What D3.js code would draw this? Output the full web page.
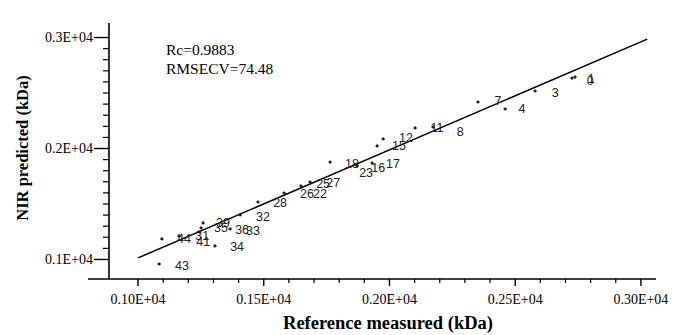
<!DOCTYPE html>
<html><head><meta charset="utf-8">
<script src="https://cdn.jsdelivr.net/npm/d3@7"></script>
<style>body{margin:0;background:#fff}svg{display:block}</style>
</head><body>
<script>
// Plain dots: measured (x) vs predicted (y)
const dotX = [1084,1095,1163,1243,1251,1259,1306,1366,1406,1477,1581,1648,1684,1764,1871,1931,1951,1975,2102,2173,2352,2460,2579,2726,2738];
const dotY = [959,1185,1212,1248,1284,1329,1122,1275,1401,1518,1599,1662,1698,1878,1842,1869,2023,2086,2185,2194,2419,2356,2518,2635,2644];
// Numbered samples drawn as text markers
const labelNames = ["0","1","3","4","7","8","11","12","15","17","16","23","18","27","25","22","26","28","32","33","36","39","35","34","41","31","44","43"];
const labelX = [2798,2802,2659,2527,2432,2281,2189,2066,2038,2014,1955,1907,1851,1776,1736,1724,1672,1565,1497,1457,1414,1338,1330,1394,1259,1255,1183,1175];
const labelY = [2617,2635,2509,2356,2437,2149,2185,2095,2023,1869,1833,1788,1869,1698,1689,1599,1599,1509,1383,1257,1266,1329,1284,1113,1158,1212,1185,950];
// Regression line end points
const fitX = [1000, 3025];
const fitY = [1014, 2986];
// Ticks
const xMajor = [1000,1500,2000,2500,3000];
const xTickLabels = ["0.10E+04","0.15E+04","0.20E+04","0.25E+04","0.30E+04"];
const yMajor = [1000,2000,3000];
const yTickLabels = ["0.1E+04","0.2E+04","0.3E+04"];
const statLines = ["Rc=0.9883","RMSECV=74.48"];

const W=677,H=335;
const svg=d3.select("body").append("svg").attr("width",W).attr("height",H);
const x=d3.scaleLinear().domain([801,3060]).range([88,656]);
const y=d3.scaleLinear().domain([824,3131]).range([279,23]);
const axisX0 = 109;
const serif="'Liberation Serif','Times New Roman',serif";

// X axis
const minorX=d3.range(1000,3001,100).filter(v=>!xMajor.includes(v));
const gx=svg.append("g").attr("transform","translate(0,279)");
gx.append("line").attr("x1",x.range()[0]).attr("x2",x.range()[1]).attr("stroke","#000").attr("stroke-width",1.6);
gx.selectAll(".mi").data(minorX).join("line").attr("x1",d=>x(d)).attr("x2",d=>x(d)).attr("y1",0).attr("y2",4).attr("stroke","#000").attr("stroke-width",1.2);
gx.selectAll(".ma").data(xMajor).join("line").attr("x1",d=>x(d)).attr("x2",d=>x(d)).attr("y1",0).attr("y2",7).attr("stroke","#000").attr("stroke-width",1.4);
gx.selectAll("text").data(xMajor).join("text").attr("x",d=>x(d)).attr("y",25).attr("text-anchor","middle")
  .attr("font-family",serif).attr("font-size",14).text((d,i)=>xTickLabels[i]);

// Y axis
const minorY=d3.range(1000,3001,100).filter(v=>!yMajor.includes(v));
const gy=svg.append("g").attr("transform",`translate(${axisX0},0)`);
gy.append("line").attr("y1",y.range()[0]).attr("y2",y.range()[1]).attr("stroke","#000").attr("stroke-width",1.6);
gy.selectAll(".mi").data(minorY).join("line").attr("y1",d=>y(d)).attr("y2",d=>y(d)).attr("x1",0).attr("x2",-6).attr("stroke","#000").attr("stroke-width",1.2);
gy.selectAll(".ma").data(yMajor).join("line").attr("y1",d=>y(d)).attr("y2",d=>y(d)).attr("x1",0).attr("x2",-15).attr("stroke","#000").attr("stroke-width",1.4);
gy.selectAll("text").data(yMajor).join("text").attr("x",-16).attr("y",d=>y(d)).attr("dy","0.35em").attr("text-anchor","end")
  .attr("font-family",serif).attr("font-size",14).text((d,i)=>yTickLabels[i]);

// Axis titles
svg.append("text").attr("x",388).attr("y",329).attr("text-anchor","middle").attr("font-family",serif)
  .attr("font-weight","bold").attr("font-size",18.5).text("Reference measured (kDa)");
svg.append("text").attr("transform","translate(28,148) rotate(-90)").attr("text-anchor","middle").attr("font-family",serif)
  .attr("font-weight","bold").attr("font-size",16.5).text("NIR predicted (kDa)");

// Stats
svg.selectAll(".stat").data(statLines).join("text").attr("x",166).attr("y",(d,i)=>55+i*19)
  .attr("font-family",serif).attr("font-size",15.5).text(d=>d);

// Regression line
svg.append("line").attr("x1",x(fitX[0])).attr("y1",y(fitY[0])).attr("x2",x(fitX[1])).attr("y2",y(fitY[1]))
  .attr("stroke","#000").attr("stroke-width",1.5);

// Dots
const dots=dotX.map((v,i)=>({x:v,y:dotY[i]}));
const dg=svg.append("g");
dg.selectAll("path").data(dots).join("path")
  .attr("d",d=>`M${x(d.x)-1.6},${y(d.y)}h3.2M${x(d.x)},${y(d.y)-1.6}v3.2`)
  .attr("stroke","#111").attr("stroke-width",1.4);

// Numbered markers
const labs=labelNames.map((n,i)=>({n,x:labelX[i],y:labelY[i]}));
svg.append("g").selectAll("text").data(labs).join("text")
  .attr("x",d=>x(d.x)).attr("y",d=>y(d.y)).attr("dy","0.36em").attr("text-anchor","middle")
  .attr("font-family","'Liberation Sans',Arial,sans-serif").attr("font-size",12.5).attr("fill","#222").text(d=>d.n);
</script>
</body></html>
